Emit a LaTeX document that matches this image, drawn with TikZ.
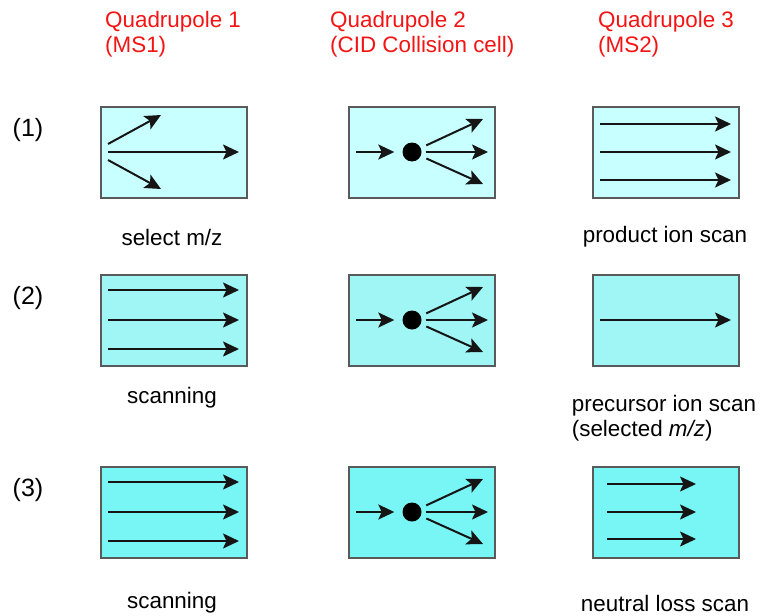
\documentclass[tikz,border=0pt]{standalone}
\usepackage{fontspec}
\setmainfont{Liberation Sans}
\usetikzlibrary{arrows.meta}
\definecolor{cA}{HTML}{C8FFFF}
\definecolor{cB}{HTML}{A0F5F5}
\definecolor{cC}{HTML}{78F6F6}
\definecolor{boxgray}{HTML}{5A5A5A}
\definecolor{titlered}{HTML}{F41414}
\definecolor{ink}{HTML}{151515}
\tikzset{
  qbox/.style={draw=boxgray, line width=2pt, anchor=north west, minimum width=146pt, minimum height=91pt, inner sep=0pt},
  ion/.style={line width=2pt, draw=ink, -{Stealth[length=16pt,width=15pt,inset=3.5pt]}},
  lbl/.style={inner sep=0pt, font=\fontsize{22.4}{25}\selectfont},
  rowlbl/.style={inner sep=0pt, font=\fontsize{25}{28}\selectfont},
  qtitle/.style={lbl, text=titlered, align=left, anchor=west},
  cdot/.style={circle, fill=black, minimum size=19pt, inner sep=0pt},
}
\begin{document}
\begin{tikzpicture}[x=1pt,y=-1pt]
\useasboundingbox (0,0) rectangle (762,615);

% titles
\node[qtitle] (t1) at (105,34.5) {Quadrupole 1\\(MS1)};
\node[qtitle] (t2) at (330,34.5) {Quadrupole 2\\(CID Collision cell)};
\node[qtitle] (t3) at (598,34.5) {Quadrupole 3\\(MS2)};

% row labels
\node[rowlbl] (r1) at (28,130) {(1)};
\node[rowlbl] (r2) at (28,298) {(2)};
\node[rowlbl] (r3) at (28,490) {(3)};

% boxes
\node[qbox, fill=cA] (b11) at (100,106) {};
\node[qbox, fill=cA] (b21) at (348,106) {};
\node[qbox, fill=cA] (b31) at (592,106) {};
\node[qbox, fill=cB] (b12) at (100,274) {};
\node[qbox, fill=cB] (b22) at (348,274) {};
\node[qbox, fill=cB] (b32) at (592,274) {};
\node[qbox, fill=cC] (b13) at (100,466) {};
\node[qbox, fill=cC] (b23) at (348,466) {};
\node[qbox, fill=cC] (b33) at (592,466) {};

% Q1, row 1: select m/z
\begin{scope}[shift={(b11.north west)}]
  \coordinate (a1s) at (8,38);  \coordinate (a1e) at (61,9);
  \coordinate (a2s) at (8,46);  \coordinate (a2e) at (139,46);
  \coordinate (a3s) at (8,54);  \coordinate (a3e) at (61,83);
  \draw[ion] (a1s) -- (a1e);
  \draw[ion] (a2s) -- (a2e);
  \draw[ion] (a3s) -- (a3e);
\end{scope}

% Q1, rows 2 and 3: scanning
\foreach \r in {2,3}{
  \begin{scope}[shift={(b1\r.north west)}]
    \foreach \k/\yy in {1/16,2/46,3/75}{
      \coordinate (s\r\k s) at (8,\yy);
      \coordinate (s\r\k e) at (139,\yy);
      \draw[ion] (s\r\k s) -- (s\r\k e);
    }
  \end{scope}
}

% Q2, collision cell, all rows
\foreach \r in {1,2,3}{
  \begin{scope}[shift={(b2\r.north west)}]
    \coordinate (in\r) at (8,46);
    \node[cdot] (dot\r) at (64,46) {};
    \coordinate (o\r a) at (135,13);
    \coordinate (o\r b) at (140,46);
    \coordinate (o\r c) at (135,78);
    \draw[ion, shorten >=8pt] (in\r) -- (dot\r);
    \draw[ion, shorten <=6pt] (dot\r) -- (o\r a);
    \draw[ion, shorten <=4pt] (dot\r) -- (o\r b);
    \draw[ion, shorten <=6pt] (dot\r) -- (o\r c);
  \end{scope}
}

% Q3, row 1: product ion scan
\begin{scope}[shift={(b31.north west)}]
  \foreach \k/\yy in {1/18,2/46,3/74}{
    \coordinate (p\k s) at (8,\yy);
    \coordinate (p\k e) at (139,\yy);
    \draw[ion] (p\k s) -- (p\k e);
  }
\end{scope}

% Q3, row 2: precursor ion scan
\begin{scope}[shift={(b32.north west)}]
  \coordinate (q1s) at (8,46);
  \coordinate (q1e) at (139,46);
  \draw[ion] (q1s) -- (q1e);
\end{scope}

% Q3, row 3: neutral loss scan
\begin{scope}[shift={(b33.north west)}]
  \foreach \k/\yy in {1/18,2/46,3/73}{
    \coordinate (n\k s) at (15,\yy);
    \coordinate (n\k e) at (104,\yy);
    \draw[ion] (n\k s) -- (n\k e);
  }
\end{scope}

% captions
\node[lbl] (l11) at (172,237) {select m/z};
\node[lbl] (l31) at (665,237) {product ion scan};
\node[lbl] (l12) at (172,398) {scanning};
\node[lbl, align=left] (l32) at (664,418.5) {precursor ion scan\\(selected \textit{m/z})};
\node[lbl] (l13) at (172,603) {scanning};
\node[lbl] (l33) at (665,603) {neutral loss scan};
\end{tikzpicture}
\end{document}
